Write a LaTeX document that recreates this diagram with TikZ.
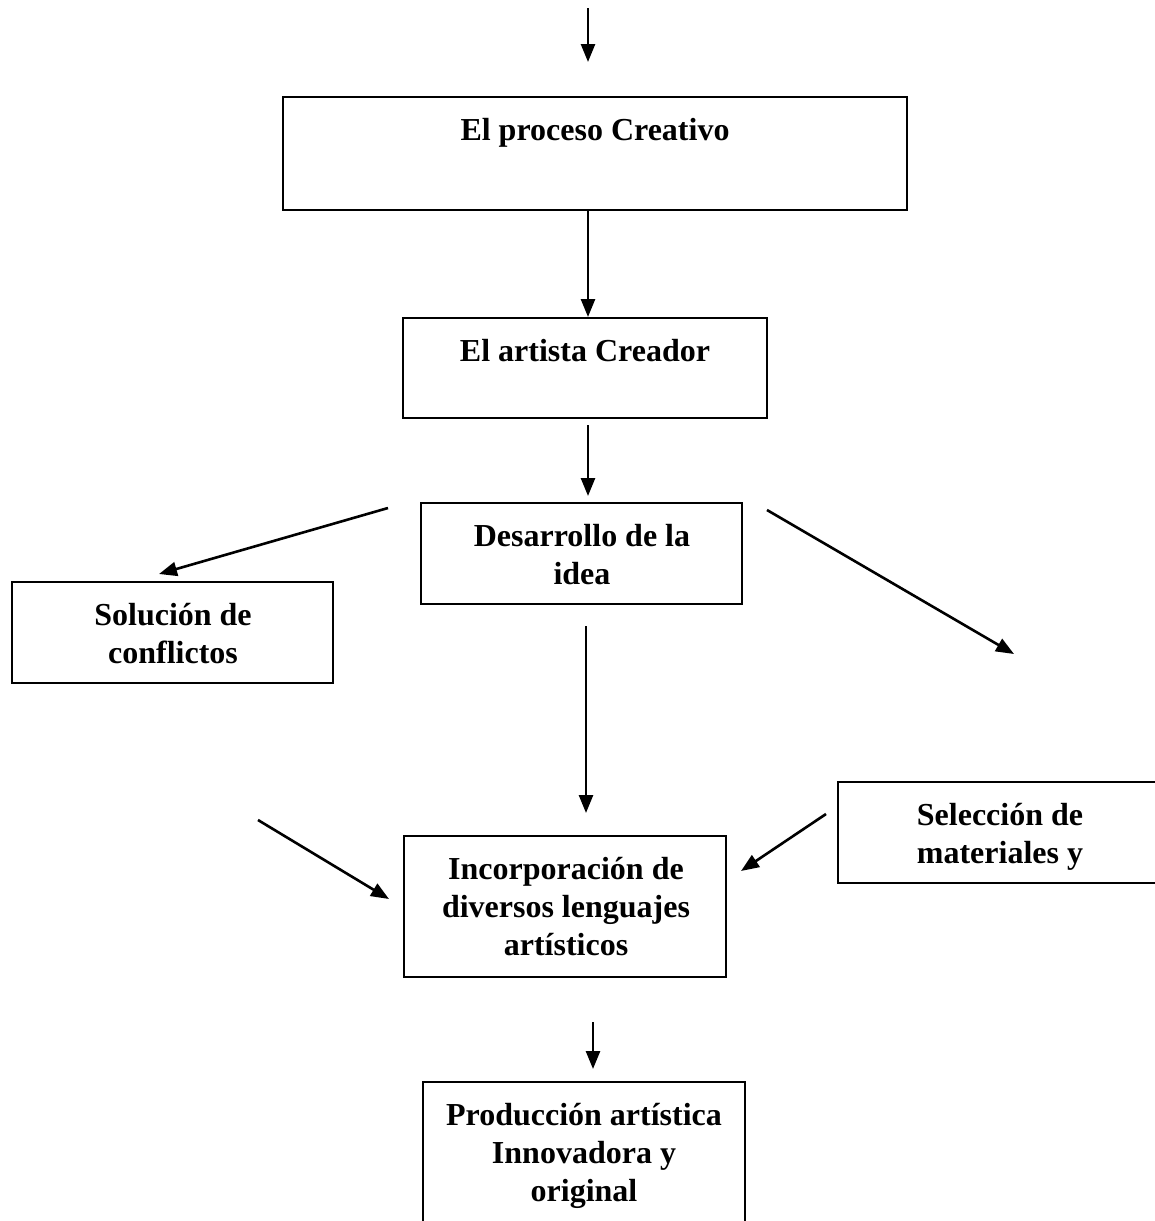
\documentclass[tikz,border=0pt]{standalone}
\usepackage{fontspec}
\setmainfont{Liberation Serif}
\usetikzlibrary{arrows.meta}
\begin{document}
\begin{tikzpicture}[x=1pt,y=-1pt,
  box/.style={draw,line width=2.4pt,inner sep=0pt,rectangle},
  lbl/.style={anchor=north,align=center,inner sep=0pt,font=\bfseries\fontsize{32}{38}\selectfont},
  arr/.style={-{Triangle[length=18pt,width=14pt]},line width=2.6pt}]
\useasboundingbox (0,0) rectangle (1155,1221);
\clip (0,0) rectangle (1155,1221);
% boxes
\node[box,minimum width=624,minimum height=113] (b1) at (595,153.5) {};
\node[box,minimum width=364,minimum height=100] (b2) at (585,368) {};
\node[box,minimum width=321,minimum height=101] (b3) at (581.5,553.5) {};
\node[box,minimum width=321,minimum height=101] (b4) at (172.5,632.5) {};
\node[box,minimum width=337,minimum height=101] (b5) at (1006.5,832.5) {};
\node[box,minimum width=322,minimum height=141] (b6) at (565,906.5) {};
\node[box,minimum width=322,minimum height=158] (b7) at (584,1161) {};
% texts
\node[lbl] (t1) at (595,118) {El proceso Creativo};
\node[lbl] (t2) at (585,339) {El artista Creador};
\node[lbl] (t3) at (582,524) {Desarrollo de la\\idea};
\node[lbl] (t4) at (173,603) {Solución de\\conflictos};
\node[lbl] (t5) at (1000,803) {Selección de\\materiales y};
\node[lbl] (t6) at (566,857) {Incorporación de\\diversos lenguajes\\artísticos};
\node[lbl] (t7) at (584,1103) {Producción artística\\Innovadora y\\original};
% arrow end points
\coordinate (a0s) at (588,8);   \coordinate (a0e) at (588,62);
\coordinate (a1s) at (588,210); \coordinate (a1e) at (588,317);
\coordinate (a2s) at (588,425); \coordinate (a2e) at (588,496);
\coordinate (a3s) at (388,508); \coordinate (a3e) at (159,574);
\coordinate (a4s) at (767,510); \coordinate (a4e) at (1014,654);
\coordinate (a5s) at (586,626); \coordinate (a5e) at (586,813);
\coordinate (a6s) at (258,820); \coordinate (a6e) at (389,899);
\coordinate (a7s) at (826,814); \coordinate (a7e) at (741,871);
\coordinate (a8s) at (593,1022); \coordinate (a8e) at (593,1069);
\foreach \i in {0,...,8} \draw[arr] (a\i s) -- (a\i e);
\end{tikzpicture}
\end{document}
